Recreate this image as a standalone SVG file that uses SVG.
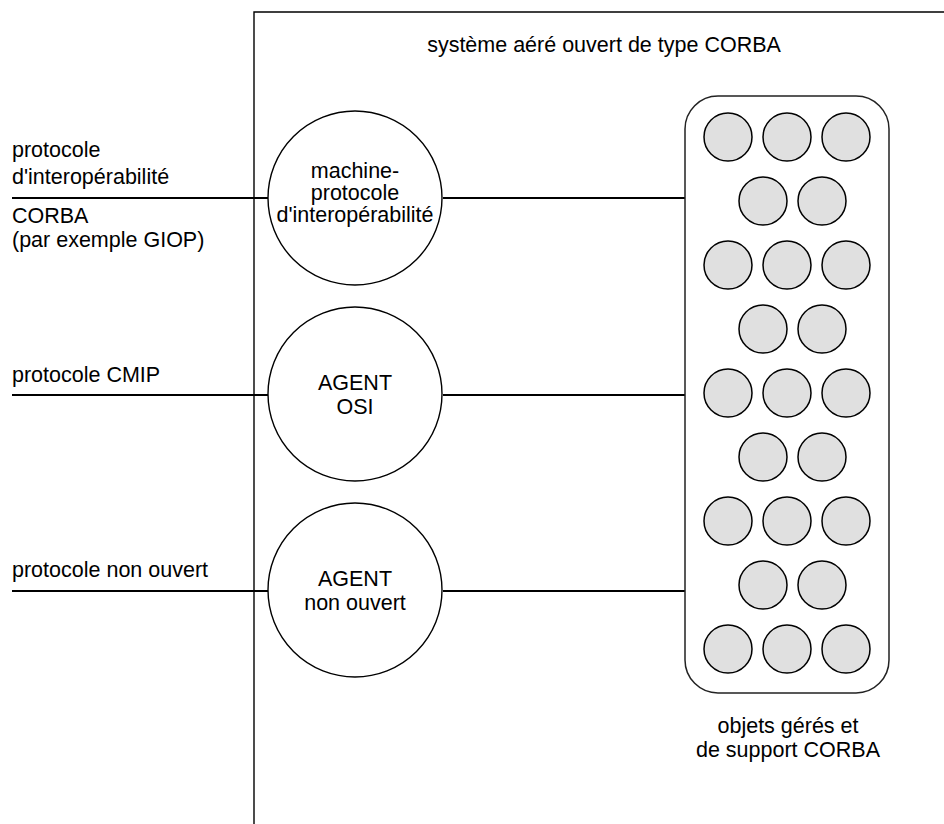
<svg xmlns="http://www.w3.org/2000/svg" width="944" height="824" viewBox="0 0 944 824">
<style>
text{font-family:"Liberation Sans",Arial,sans-serif;font-size:21.5px;fill:#000}
.c{text-anchor:middle}
.big{fill:#fff;stroke:#000;stroke-width:1.4}
.obj{fill:#e0e0e0;stroke:#000;stroke-width:1.5}
.ln{stroke:#000;stroke-width:2.2;fill:none}
</style>
<rect width="944" height="824" fill="#fff"/>
<g id="system">
<path d="M254,824 V12 H944" fill="none" stroke="#000" stroke-width="1.4"/>
<text class="c" x="604" y="52">système aéré ouvert de type CORBA</text>
</g>
<g id="connectors">
<line class="ln" x1="12" y1="198" x2="268" y2="198"/>
<line class="ln" x1="443" y1="198" x2="686" y2="198"/>
<line class="ln" x1="12" y1="395" x2="268" y2="395"/>
<line class="ln" x1="443" y1="395" x2="686" y2="395"/>
<line class="ln" x1="12" y1="591" x2="268" y2="591"/>
<line class="ln" x1="443" y1="591" x2="686" y2="591"/>
</g>
<g id="label-giop">
<text x="12" y="157">protocole</text>
<text x="12" y="184">d'interopérabilité</text>
<text x="12" y="223">CORBA</text>
<text x="12" y="247">(par exemple GIOP)</text>
</g>
<g id="label-cmip"><text x="12" y="382">protocole CMIP</text></g>
<g id="label-nonouvert"><text x="12" y="577">protocole non ouvert</text></g>
<g id="machine">
<circle class="big" cx="355" cy="198" r="87"/>
<text class="c" x="355" y="178">machine-</text>
<text class="c" x="355" y="200">protocole</text>
<text class="c" x="355" y="222">d'interopérabilité</text>
</g>
<g id="agent-osi">
<circle class="big" cx="355" cy="394" r="87"/>
<text class="c" x="355" y="390">AGENT</text>
<text class="c" x="355" y="414">OSI</text>
</g>
<g id="agent-nonouvert">
<circle class="big" cx="355" cy="590" r="87"/>
<text class="c" x="355" y="586">AGENT</text>
<text class="c" x="355" y="610">non ouvert</text>
</g>
<g id="objets">
<rect x="685" y="96" width="204" height="597" rx="33" ry="33" fill="#fff" stroke="#222" stroke-width="1.5"/>
<g class="obj">
<circle cx="728" cy="137" r="24"/><circle cx="787" cy="137" r="24"/><circle cx="846" cy="137" r="24"/>
<circle cx="763" cy="201" r="24"/><circle cx="822" cy="201" r="24"/>
<circle cx="728" cy="265" r="24"/><circle cx="787" cy="265" r="24"/><circle cx="846" cy="265" r="24"/>
<circle cx="763" cy="329" r="24"/><circle cx="822" cy="329" r="24"/>
<circle cx="728" cy="393" r="24"/><circle cx="787" cy="393" r="24"/><circle cx="846" cy="393" r="24"/>
<circle cx="763" cy="457" r="24"/><circle cx="822" cy="457" r="24"/>
<circle cx="728" cy="521" r="24"/><circle cx="787" cy="521" r="24"/><circle cx="846" cy="521" r="24"/>
<circle cx="763" cy="585" r="24"/><circle cx="822" cy="585" r="24"/>
<circle cx="728" cy="649" r="24"/><circle cx="787" cy="649" r="24"/><circle cx="846" cy="649" r="24"/>
</g>
<text class="c" x="788" y="733">objets gérés et</text>
<text class="c" x="788" y="757">de support CORBA</text>
</g>
</svg>
